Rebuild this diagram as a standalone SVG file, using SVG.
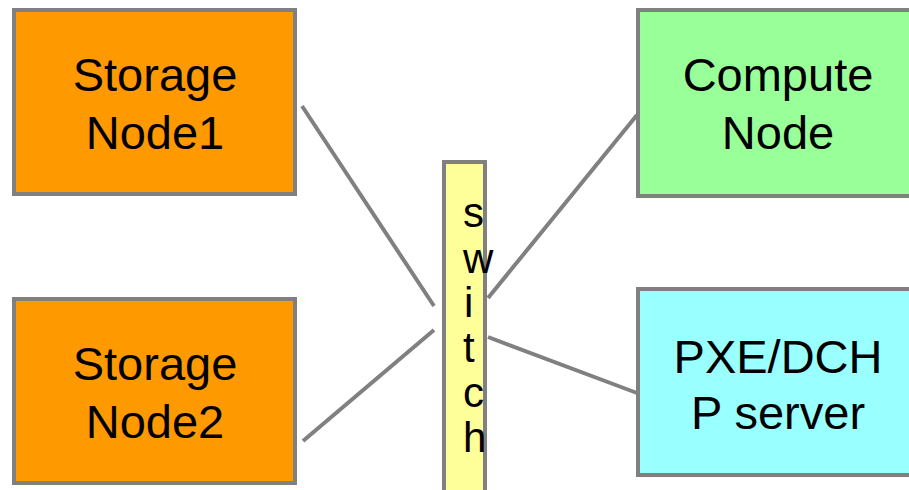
<svg xmlns="http://www.w3.org/2000/svg" width="909" height="490" viewBox="0 0 909 490">
<style>
.box{stroke:#808080;stroke-width:4}
.t{font-family:"Liberation Sans",Arial,sans-serif;font-size:47px;fill:#000;text-anchor:middle}
.s{font-family:"Liberation Sans",Arial,sans-serif;font-size:42px;fill:#000}
.c{stroke:#808080;stroke-width:4;fill:none}
</style>
<rect width="909" height="490" fill="#fff"/>
<g id="connectors">
<line class="c" x1="302" y1="106" x2="434" y2="306"/>
<line class="c" x1="303" y1="441" x2="434" y2="330"/>
<line class="c" x1="488" y1="298" x2="637" y2="115"/>
<line class="c" x1="488" y1="337" x2="637" y2="393"/>
</g>
<g id="storage1">
<rect class="box" x="14" y="10" width="281" height="184" fill="#FF9900"/>
<text class="t" x="155" y="91">Storage</text>
<text class="t" x="155" y="149">Node1</text>
</g>
<g id="storage2">
<rect class="box" x="14" y="299" width="281" height="184" fill="#FF9900"/>
<text class="t" x="155" y="380">Storage</text>
<text class="t" x="155" y="438">Node2</text>
</g>
<g id="compute">
<rect class="box" x="638" y="10" width="280" height="186" fill="#99FF99"/>
<text class="t" x="778" y="91">Compute</text>
<text class="t" x="778" y="149">Node</text>
</g>
<g id="pxe">
<rect class="box" x="638" y="289" width="280" height="186" fill="#99FFFF"/>
<text class="t" x="778" y="373">PXE/DCH</text>
<text class="t" x="778" y="429">P server</text>
</g>
<g id="switch">
<rect class="box" x="444" y="162" width="41" height="340" fill="#FFFF99"/>
<text class="s" x="463" y="227">s</text>
<text class="s" x="463" y="273">w</text>
<text class="s" x="464" y="317">i</text>
<text class="s" x="463" y="362">t</text>
<text class="s" x="463" y="407">c</text>
<text class="s" x="463" y="452">h</text>
</g>
</svg>
